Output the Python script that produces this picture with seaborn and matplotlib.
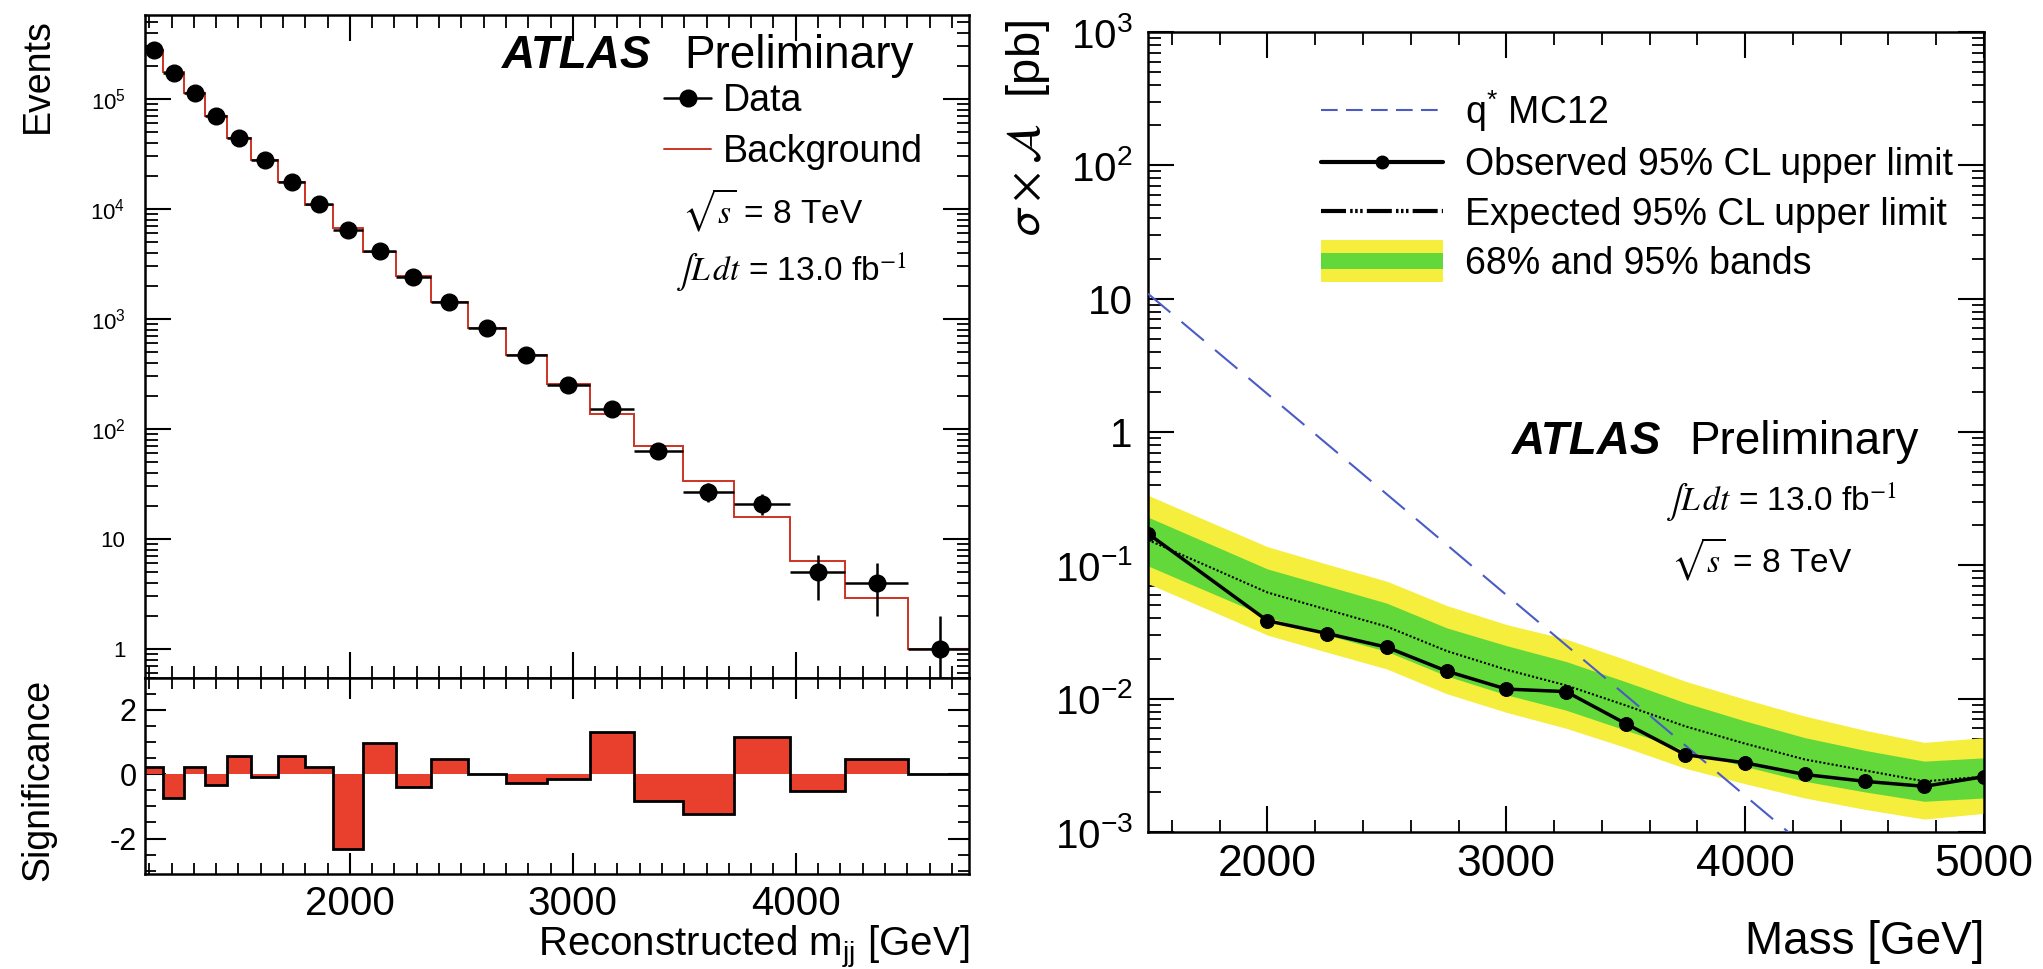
import numpy as np
import matplotlib
matplotlib.use("Agg")
import matplotlib.pyplot as plt
import seaborn as sns
from matplotlib.lines import Line2D
from matplotlib.patches import Rectangle
from matplotlib.legend_handler import HandlerBase
from matplotlib.ticker import (MultipleLocator, FixedLocator, LogLocator,
                               NullFormatter, FuncFormatter)

# ---- left: dijet mass spectrum ----
mjj_edges = [1081, 1163, 1255, 1352, 1448, 1557, 1678, 1799, 1925, 2060, 2206,
             2363, 2530, 2699, 2883, 3076, 3274, 3492, 3722, 3976, 4222, 4503, 4790]
data_events = [277000, 174000, 113000, 70000, 44600, 28000, 17500, 11000, 6500,
               4150, 2430, 1440, 835, 467, 252, 152, 63, 27, 21, 5, 4, 1]
data_err = [526, 417, 336, 265, 211, 167, 132, 105, 81, 64, 49, 38, 29, 22, 16,
            12, 7.9, 5.2, 4.6, 2.2, 2.0, 1.0]
bkg_events = [276880, 174300, 112920, 70090, 44480, 28020, 17430, 10980, 6690,
              4090, 2450, 1420, 835, 473, 254, 136, 69.6, 33.4, 15.8, 6.3, 2.9, 1.0]
significance = [0.23, -0.73, 0.23, -0.34, 0.56, -0.10, 0.56, 0.22, -2.32, 0.97,
                -0.41, 0.48, 0.0, -0.26, -0.15, 1.31, -0.84, -1.24, 1.14, -0.51,
                0.48, 0.0]

# ---- right: q* limits ----
mass = [1500, 2000, 2250, 2500, 2750, 3000, 3250, 3500, 3750, 4000, 4250, 4500, 4750, 5000]
observed = [0.173, 0.0384, 0.0308, 0.0243, 0.0161, 0.0118, 0.0113, 0.0065,
            0.0038, 0.0033, 0.0027, 0.0024, 0.0022, 0.0026]
expected = [0.155, 0.0626, 0.0465, 0.0347, 0.0228, 0.0165, 0.0126, 0.0089,
            0.0062, 0.0046, 0.0035, 0.0029, 0.0024, 0.0026]
green_hi = [0.230, 0.094, 0.070, 0.052, 0.034, 0.025, 0.019, 0.0134, 0.0093,
            0.0068, 0.0051, 0.0041, 0.0034, 0.0036]
green_lo = [0.099, 0.041, 0.030, 0.0226, 0.0148, 0.0107, 0.0082, 0.0058, 0.0041,
            0.0031, 0.0024, 0.0020, 0.0017, 0.0018]
yellow_hi = [0.335, 0.138, 0.102, 0.076, 0.050, 0.036, 0.028, 0.0196, 0.0135,
             0.0099, 0.0074, 0.0058, 0.0047, 0.0051]
yellow_lo = [0.073, 0.030, 0.0223, 0.0167, 0.0109, 0.0079, 0.0060, 0.0043,
             0.0030, 0.0023, 0.0018, 0.00148, 0.00125, 0.00138]
qstar_mass = [1500, 2000, 2500, 3000, 3500, 4000, 4500]
qstar_xsec = [10.9, 1.93, 0.341, 0.060, 0.0106, 0.00187, 0.00033]

RED = "#cc3322"
SIGRED = "#e8402c"
GREEN = "#62d83a"
YELLOW = "#f5ee3c"
BLUE = "#4a5cc4"

sns.set_theme(style="ticks", rc={"axes.edgecolor": "black", "axes.linewidth": 1.8,
                                 "xtick.color": "black", "ytick.color": "black",
                                 "text.color": "black", "axes.labelcolor": "black"})
plt.rcParams["font.family"] = ["Liberation Sans", "DejaVu Sans"]
plt.rcParams["mathtext.fontset"] = "custom"
plt.rcParams["mathtext.rm"] = "Liberation Sans"
plt.rcParams["mathtext.it"] = "Liberation Sans:italic"
plt.rcParams["mathtext.bf"] = "Liberation Sans:bold"

W, H = 2043, 969
fig = plt.figure(figsize=(W / 100, H / 100), dpi=100)


def px_axes(l, t, r, b, **kw):
    return fig.add_axes([l / W, 1 - b / H, (r - l) / W, (b - t) / H], **kw)


ax_top = px_axes(145, 15, 969, 677.5)
ax_sig = px_axes(145, 677.5, 969, 874, sharex=ax_top)
ax_lim = px_axes(1148, 32, 1984, 832)


def style_ticks(ax, big, small):
    ax.tick_params(which="both", direction="in", top=True, right=True, width=1.5)
    ax.tick_params(which="major", length=big)
    ax.tick_params(which="minor", length=small, width=1.3)


def pow_label(v, pos):
    if v <= 0:
        return ""
    e = int(round(np.log10(v)))
    if e == 0:
        return "1"
    if e == 1:
        return "10"
    return r"$10^{%d}$" % e


# ---------------- left upper: spectrum ----------------
edges = np.array(mjj_edges, dtype=float)
centers = 0.5 * (edges[:-1] + edges[1:])
half = 0.5 * np.diff(edges)
dvals = np.array(data_events, dtype=float)
derr = np.array(data_err)
err_lo = np.minimum(derr, dvals * 0.999)

ax_top.stairs(bkg_events, edges, color=RED, lw=1.4, zorder=2)
ax_top.errorbar(centers, dvals, xerr=half, yerr=[err_lo, derr], fmt="o",
                color="black", ms=12, elinewidth=1.8, capsize=0, zorder=3)
ax_top.set_yscale("log")
ax_top.set_ylim(0.55, 5.8e5)
ax_top.set_xlim(1081, 4777)
ax_top.yaxis.set_major_locator(FixedLocator([1, 10, 1e2, 1e3, 1e4, 1e5]))
ax_top.yaxis.set_minor_locator(LogLocator(base=10, subs=np.arange(2, 10), numticks=20))
ax_top.yaxis.set_major_formatter(FuncFormatter(pow_label))
ax_top.yaxis.set_minor_formatter(NullFormatter())
ax_top.xaxis.set_major_locator(MultipleLocator(1000))
ax_top.xaxis.set_minor_locator(MultipleLocator(100))
style_ticks(ax_top, 19, 9)
ax_top.tick_params(labelbottom=False, axis="y", labelsize=16, pad=14)
ax_top.set_ylabel("Events", fontsize=27, loc="top")
ax_top.yaxis.set_label_coords(-0.108, 0.995)

ax_top.text(0.433, 0.938, "ATLAS", transform=ax_top.transAxes, fontsize=33,
            fontweight="bold", fontstyle="italic", va="center")
ax_top.text(0.654, 0.938, "Preliminary", transform=ax_top.transAxes, fontsize=33,
            va="center")
ax_top.text(0.652, 0.705, r"$\sqrt{s}$ = 8 TeV", transform=ax_top.transAxes,
            fontsize=24, va="center", math_fontfamily="stix")
ax_top.text(0.643, 0.612, r"$\int L\,dt$ = 13.0 fb$^{-1}$", transform=ax_top.transAxes,
            fontsize=24, va="center", math_fontfamily="stix")
h_data = Line2D([], [], color="black", marker="o", ms=12, lw=1.8)
h_bkg = Line2D([], [], color=RED, lw=1.4)
ax_top.legend([h_data, h_bkg], ["Data", "Background"], loc="upper left",
              bbox_to_anchor=(0.630, 0.897), frameon=False, fontsize=27,
              handlelength=1.25, handletextpad=0.32, labelspacing=0.4,
              borderpad=0, borderaxespad=0)

# ---------------- left lower: significance ----------------
ax_sig.stairs(significance, edges, fill=True, color=SIGRED, baseline=0, zorder=2)
ax_sig.stairs(significance, edges, color="black", lw=2.0, baseline=None, zorder=3)
ax_sig.set_ylim(-3.1, 3.0)
ax_sig.yaxis.set_major_locator(FixedLocator([-2, 0, 2]))
ax_sig.yaxis.set_minor_locator(MultipleLocator(0.5))
ax_sig.yaxis.set_major_formatter(FuncFormatter(lambda v, p: "%d" % v))
style_ticks(ax_sig, 15, 8)
ax_sig.tick_params(axis="y", labelsize=22, pad=6)
ax_sig.tick_params(axis="x", labelsize=29, pad=8)
ax_sig.set_ylabel("Significance", fontsize=27)
ax_sig.yaxis.set_label_coords(-0.108, 0.48)
ax_sig.set_xlabel(r"Reconstructed m$_{\mathrm{jj}}$ [GeV]", fontsize=29, loc="right")
ax_sig.xaxis.set_label_coords(1.0, -0.255)

# ---------------- right: limits ----------------
ax_lim.fill_between(mass, yellow_lo, yellow_hi, color=YELLOW, lw=0, zorder=1)
ax_lim.fill_between(mass, green_lo, green_hi, color=GREEN, lw=0, zorder=2)
sns.lineplot(x=mass, y=expected, ax=ax_lim, color="black", lw=1.5,
             linestyle=(0, (1, 1)), zorder=3)
sns.lineplot(x=qstar_mass, y=qstar_xsec, ax=ax_lim, color=BLUE, lw=1.5,
             linestyle=(0, (14, 7)), zorder=4)
sns.lineplot(x=mass, y=observed, ax=ax_lim, color="black", lw=2.5, marker="o",
             ms=10, markeredgecolor="black", zorder=5)
ax_lim.set_yscale("log")
ax_lim.set_ylim(1e-3, 1e3)
ax_lim.set_xlim(1500, 5000)
ax_lim.yaxis.set_major_locator(FixedLocator([1e-3, 1e-2, 1e-1, 1, 10, 1e2, 1e3]))
ax_lim.yaxis.set_minor_locator(LogLocator(base=10, subs=np.arange(2, 10), numticks=20))
ax_lim.yaxis.set_major_formatter(FuncFormatter(pow_label))
ax_lim.yaxis.set_minor_formatter(NullFormatter())
ax_lim.xaxis.set_major_locator(MultipleLocator(1000))
ax_lim.xaxis.set_minor_locator(MultipleLocator(200))
style_ticks(ax_lim, 19, 9)
ax_lim.tick_params(axis="y", labelsize=29, pad=11)
ax_lim.tick_params(axis="x", labelsize=32, pad=9)
ax_lim.set_ylabel(r"$\sigma\times\mathcal{A}$  [pb]", fontsize=34, loc="top",
                  math_fontfamily="stixsans")
ax_lim.yaxis.set_label_coords(-0.115, 1.015)
ax_lim.set_xlabel("Mass [GeV]", fontsize=33, loc="right")
ax_lim.xaxis.set_label_coords(1.0, -0.11)

ax_lim.text(0.435, 0.4875, "ATLAS", transform=ax_lim.transAxes, fontsize=33,
            fontweight="bold", fontstyle="italic", va="center")
ax_lim.text(0.647, 0.4875, "Preliminary", transform=ax_lim.transAxes, fontsize=33,
            va="center")
ax_lim.text(0.618, 0.4125, r"$\int L\,dt$ = 13.0 fb$^{-1}$", transform=ax_lim.transAxes,
            fontsize=24, va="center", math_fontfamily="stix")
ax_lim.text(0.626, 0.341, r"$\sqrt{s}$ = 8 TeV", transform=ax_lim.transAxes,
            fontsize=24, va="center", math_fontfamily="stix")


class BandHandler(HandlerBase):
    def create_artists(self, legend, orig_handle, xdescent, ydescent, width,
                       height, fontsize, trans):
        yb = Rectangle((-xdescent, -ydescent - 0.3 * height), width, 1.6 * height,
                       facecolor=YELLOW, edgecolor="none", transform=trans)
        gb = Rectangle((-xdescent, -ydescent + 0.19 * height), width, 0.62 * height,
                       facecolor=GREEN, edgecolor="none", transform=trans)
        return [yb, gb]


h_q = Line2D([], [], color=BLUE, lw=1.5, linestyle=(0, (8, 4)))
h_obs = Line2D([], [], color="black", lw=3, marker="o", ms=9)
h_exp = Line2D([], [], color="black", lw=3,
               linestyle=(0, (6, 1, 0.6, 0.6, 0.6, 0.6, 0.6, 1)))
h_band = Rectangle((0, 0), 1, 1)
ax_lim.legend([h_q, h_obs, h_exp, h_band],
              ["q$^{*}$ MC12", "Observed 95% CL upper limit",
               "Expected 95% CL upper limit", "68% and 95% bands"],
              handler_map={h_band: BandHandler()}, loc="upper left",
              bbox_to_anchor=(0.207, 0.93), frameon=False, fontsize=27,
              handlelength=3.25, handletextpad=0.59, labelspacing=0.36,
              borderpad=0, borderaxespad=0)

fig.savefig("out.png", dpi=100)
